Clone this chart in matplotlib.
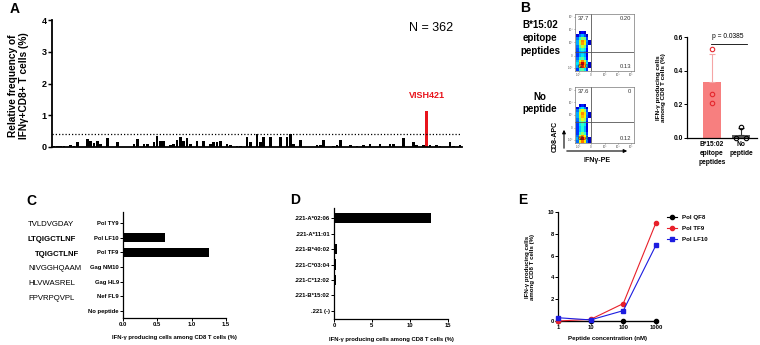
import matplotlib
matplotlib.use("Agg")
import matplotlib.pyplot as plt
import numpy as np
from matplotlib.patches import FancyArrowPatch

plt.rcParams['font.family'] = ['Liberation Sans', 'DejaVu Sans']

# ---------------- data ----------------
# A: screen of peptides, relative frequency of IFNg+CD8+ T cells (%)
freq = [0.03, 0.03, 0.02, 0.02, 0.00, 0.05, 0.02, 0.15, 0.00, 0.00,
        0.25, 0.20, 0.12, 0.20, 0.10, 0.00, 0.27, 0.00, 0.00, 0.15,
        0.00, 0.00, 0.00, 0.00, 0.10, 0.25, 0.00, 0.08, 0.10, 0.00,
        0.15, 0.35, 0.20, 0.20, 0.00, 0.05, 0.10, 0.22, 0.30, 0.20,
        0.28, 0.10, 0.00, 0.18, 0.00, 0.18, 0.00, 0.08, 0.15, 0.15,
        0.20, 0.00, 0.08, 0.05, 0.00, 0.02, 0.03, 0.00, 0.30, 0.15,
        0.00, 0.40, 0.15, 0.30, 0.00, 0.30, 0.00, 0.00, 0.32, 0.00,
        0.30, 0.42, 0.08, 0.00, 0.22, 0.00, 0.00, 0.00, 0.00, 0.05,
        0.05, 0.22, 0.00, 0.00, 0.03, 0.05, 0.22, 0.00, 0.00, 0.05,
        0.00, 0.03, 0.00, 0.05, 0.00, 0.08, 0.00, 0.00, 0.08, 0.00,
        0.00, 0.08, 0.08, 0.00, 0.00, 0.28, 0.00, 0.00, 0.15, 0.05,
        0.00, 0.05, 1.12, 0.05, 0.00, 0.05, 0.03, 0.00, 0.00, 0.17,
        0.03, 0.00, 0.05]
threshold = 0.4
n_label = "N = 362"
hit_label = "VISH421"

# B: flow plots (density, rows bottom -> top)
dens_epitope = [
    [0.20, 0.40, 0.45, 0.35, 0.20, 0.00],
    [0.30, 0.65, 0.80, 0.65, 0.30, 0.10],
    [0.35, 0.70, 0.85, 0.70, 0.35, 0.10],
    [0.30, 0.60, 0.70, 0.55, 0.30, 0.00],
    [0.25, 0.40, 0.45, 0.35, 0.15, 0.00],
    [0.20, 0.30, 0.35, 0.30, 0.12, 0.00],
    [0.20, 0.30, 0.32, 0.28, 0.12, 0.00],
    [0.22, 0.35, 0.40, 0.35, 0.15, 0.00],
    [0.25, 0.45, 0.55, 0.45, 0.20, 0.00],
    [0.30, 0.55, 0.68, 0.60, 0.25, 0.10],
    [0.30, 0.55, 0.70, 0.62, 0.28, 0.10],
    [0.25, 0.40, 0.50, 0.45, 0.20, 0.00],
    [0.12, 0.25, 0.30, 0.22, 0.10, 0.00],
    [0.00, 0.10, 0.15, 0.10, 0.00, 0.00]]
dens_nopep = [
    [0.25, 0.60, 0.72, 0.60, 0.25, 0.10],
    [0.30, 0.70, 0.85, 0.70, 0.30, 0.10],
    [0.25, 0.60, 0.70, 0.60, 0.25, 0.00],
    [0.20, 0.40, 0.50, 0.40, 0.20, 0.00],
    [0.20, 0.32, 0.38, 0.30, 0.12, 0.00],
    [0.20, 0.32, 0.38, 0.30, 0.12, 0.00],
    [0.20, 0.35, 0.40, 0.35, 0.12, 0.00],
    [0.22, 0.40, 0.48, 0.40, 0.15, 0.00],
    [0.25, 0.48, 0.58, 0.50, 0.20, 0.00],
    [0.30, 0.55, 0.66, 0.60, 0.25, 0.10],
    [0.30, 0.60, 0.70, 0.62, 0.28, 0.10],
    [0.25, 0.50, 0.60, 0.50, 0.22, 0.00],
    [0.12, 0.30, 0.35, 0.25, 0.10, 0.00],
    [0.00, 0.12, 0.18, 0.10, 0.00, 0.00]]
quad_epitope = ["37.7", "0.20", "62.0", "0.13"]
quad_nopep = ["37.6", "0", "62.4", "0.12"]

# B: bar summary
b_groups = ["B*15:02\nepitope\npeptides", "No\npeptide"]
b_means = [0.33, 0.02]
b_sd = [0.17, 0.04]
b_pts_epitope = [0.53, 0.26, 0.21]
b_pts_nopep = [0.065, 0.0, 0.0]
b_pval = "p = 0.0385"

# C: peptides
c_labels = ["Pol TY9", "Pol LF10", "Pol TF9", "Gag NM10", "Gag HL9", "Nef FL9", "No peptide"]
c_values = [0.0, 0.61, 1.25, 0.0, 0.0, 0.0, 0.0]
c_seqs = ["TVLDVGDAY", "LTQIGCTLNF", "TQIGCTLNF", "NIVGGHQAAM", "HLVWASREL", "FPVRPQVPL"]
c_seq_bold = [False, True, True, False, False, False]

# D: HLA alleles
d_labels = [".221-A*02:06", ".221-A*11:01", ".221-B*40:02", ".221-C*03:04",
            ".221-C*12:02", ".221-B*15:02", ".221 (-)"]
d_values = [12.7, 0.05, 0.35, 0.25, 0.2, 0.1, 0.15]

# E: titration
e_conc = [1, 10, 100, 1000]
e_qf8 = [0.0, 0.0, 0.0, 0.0]
e_tf9 = [0.0, 0.15, 1.6, 9.0]
e_lf10 = [0.3, 0.1, 0.95, 6.95]

xlab = "IFN-\u03b3 producing cells among CD8 T cells (%)"
ylab2 = "IFN-\u03b3 producing cells\namong CD8 T cells (%)"

# ---------------- layout helpers ----------------
W, H = 760, 345
fig = plt.figure(figsize=(W / 100, H / 100), dpi=100)


def box(x0, y0, x1, y1):
    return [x0 / W, 1 - y1 / H, (x1 - x0) / W, (y1 - y0) / H]


def ftext(x, y, s, **kw):
    fig.text(x / W, 1 - y / H, s, **kw)


def prism(ax, lw=0.9, fs=4.2):
    for s in ['top', 'right']:
        ax.spines[s].set_visible(False)
    for s in ['left', 'bottom']:
        ax.spines[s].set_linewidth(lw)
    ax.tick_params(width=lw * 0.8, length=2, labelsize=fs, pad=1)
    for t in ax.get_xticklabels() + ax.get_yticklabels():
        t.set_fontweight('bold')


# ---------------- A ----------------
axA = fig.add_axes(box(52, 20, 462, 147))
idx = np.arange(len(freq))
hi = int(np.argmax(freq))
axA.bar(idx, freq, width=0.8, color=['#e8141c' if i == hi else 'black' for i in idx])
axA.set_xlim(-0.6, len(freq) - 0.4)
axA.set_ylim(0, 4)
axA.set_yticks([0, 1, 2, 3, 4])
axA.set_xticks([])
axA.axhline(threshold, color='black', lw=0.9, ls=(0, (1, 1.6)))
prism(axA, lw=1.3, fs=6.5)
axA.tick_params(axis='y', length=3)
axA.text(hi, freq[hi] + 0.5, hit_label, color='#e8141c', fontsize=6.5,
         fontweight='bold', ha='center', va='center')
axA.set_ylabel("Relative frequency of\nIFN\u03b3+CD8+ T cells (%)", fontsize=7.3,
               fontweight='bold', linespacing=1.05)
axA.yaxis.set_label_coords(-0.057, 0.48)
ftext(431, 28, n_label, fontsize=9, ha='center', va='center')
ftext(10, 9, "A", fontsize=10, fontweight='bold', va='center', ha='left')

# ---------------- B: flow plots ----------------
cmap = plt.get_cmap('jet')


def flow(ax, dens, gate_y, q):
    d = np.ma.masked_less(np.array(dens), 0.09)
    xe = np.linspace(2, 27, d.shape[1] + 1)
    ye = np.linspace(0, 70, d.shape[0] + 1)
    ax.pcolormesh(xe, ye, d, cmap=cmap, vmin=0.05, vmax=0.9, shading='flat')
    ax.set_xlim(0, 100)
    ax.set_ylim(0, 100)
    ax.axvline(27, color='#555555', lw=0.6)
    ax.axhline(gate_y, color='#555555', lw=0.6)
    for s in ax.spines.values():
        s.set_linewidth(0.5)
        s.set_color('#777777')
    ax.set_xticks([6, 27, 50, 73, 95])
    ax.set_xticklabels(["-10\u00b3", "0", "10\u00b3", "10\u2074", "10\u2075"])
    ax.set_yticks([6, 27, 50, 73, 95])
    ax.set_yticklabels(["-10\u00b3", "0", "10\u00b3", "10\u2074", "10\u2075"])
    ax.tick_params(length=1, width=0.4, labelsize=2.2, pad=0.5, colors='#555555')
    kw = dict(fontsize=4.2, color='#333333', va='center')
    ax.text(5, 92, q[0], ha='left', **kw)
    ax.text(95, 92, q[1], ha='right', **kw)
    ax.text(5, 8, q[2], ha='left', **kw)
    ax.text(95, 8, q[3], ha='right', **kw)


flow(fig.add_axes(box(575, 14, 634, 71)), dens_epitope, 33, quad_epitope)
flow(fig.add_axes(box(575, 87, 634, 143)), dens_nopep, 37.5, quad_nopep)
fig.add_artist(FancyArrowPatch((564 / W, 1 - 151 / H), (564 / W, 1 - 127 / H),
                               arrowstyle='-|>', mutation_scale=5, lw=0.8,
                               color='black', transform=fig.transFigure))
fig.add_artist(FancyArrowPatch((564 / W, 1 - 151 / H), (630 / W, 1 - 151 / H),
                               arrowstyle='-|>', mutation_scale=5, lw=0.8,
                               color='black', transform=fig.transFigure))
ftext(555, 136, "CD8-APC", rotation=90, fontsize=5, fontweight='bold', ha='center', va='center')
ftext(597, 160, "IFN\u03b3-PE", fontsize=5, fontweight='bold', ha='center', va='center')
ftext(540, 38, "B*15:02\nepitope\npeptides", fontsize=7, fontweight='bold',
      ha='center', va='center', linespacing=1.35)
ftext(540, 103, "No\npeptide", fontsize=7, fontweight='bold',
      ha='center', va='center', linespacing=1.35)
ftext(520, 8, "B", fontsize=10, fontweight='bold', va='center', ha='left')

# ---------------- B: bar summary ----------------
axB = fig.add_axes(box(687, 37, 757, 138))
xb = np.arange(len(b_groups))
axB.bar(xb, b_means, width=0.62, color=['#f77f7f', '#5a5a5a'], zorder=1)
axB.errorbar(xb[0], b_means[0], yerr=[[0], [b_sd[0]]], color='#f5a5a5', lw=0.8,
             capsize=2.5, capthick=0.8, zorder=2)
axB.errorbar(xb[1], b_means[1], yerr=[[0], [b_sd[1]]], color='#333333', lw=0.8,
             capsize=2.5, capthick=0.8, zorder=2)
axB.plot([xb[0]] * len(b_pts_epitope), b_pts_epitope, 'o', mfc='none', mec='#e4262d',
         ms=3.2, mew=0.8, zorder=3, clip_on=False)
axB.plot(xb[1] + np.array([0.0, -0.16, 0.16]), b_pts_nopep, 'o', mfc='none', mec='black',
         ms=3.2, mew=0.8, zorder=3, clip_on=False)
axB.set_xlim(-0.86, 1.55)
axB.set_ylim(0, 0.6)
axB.set_yticks([0, 0.2, 0.4, 0.6])
axB.set_yticklabels(["0.0", "0.2", "0.4", "0.6"])
axB.set_xticks(xb)
axB.set_xticklabels(b_groups, linespacing=1.4)
prism(axB, lw=0.9, fs=4.8)
axB.tick_params(axis='x', length=0, pad=2.5)
axB.plot([xb[0] - 0.05, xb[1] + 0.2], [0.56, 0.56], color='black', lw=0.6, clip_on=False)
axB.text(0.55, 0.605, b_pval, fontsize=4.8, ha='center', va='center')
axB.set_ylabel(ylab2, fontsize=4.6, fontweight='bold', linespacing=1.1)
axB.yaxis.set_label_coords(-0.3, 0.5)

# ---------------- C ----------------
axC = fig.add_axes(box(123, 212, 226, 318))
yc = np.arange(len(c_labels))
axC.barh(yc, c_values, height=0.6, color='black')
axC.set_ylim(len(c_labels) - 0.52, -0.75)
axC.set_xlim(0, 1.5)
axC.set_yticks(yc)
axC.set_yticklabels(c_labels)
axC.set_xticks([0, 0.5, 1.0, 1.5])
axC.set_xticklabels(["0.0", "0.5", "1.0", "1.5"])
prism(axC, lw=0.9, fs=4.2)
axC.set_xlabel(xlab, fontsize=4.2, fontweight='bold', labelpad=6)
seq_tr = matplotlib.transforms.blended_transform_factory(fig.transFigure, axC.transData)
for i, (s, b) in enumerate(zip(c_seqs, c_seq_bold)):
    x0 = 35 if s.startswith("TQ") else 28
    axC.text(x0 / W, yc[i] + 0.12, s, transform=seq_tr, fontsize=5.6,
             fontweight='bold' if b else 'normal', ha='left', va='center')
ftext(26, 201, "C", fontsize=10, fontweight='bold', va='center', ha='left')

# ---------------- D ----------------
axD = fig.add_axes(box(334, 208, 448, 319))
yd = np.arange(len(d_labels))
axD.barh(yd, d_values, height=0.65, color='black')
axD.set_ylim(len(d_labels) - 0.48, -0.65)
axD.set_xlim(0, 15)
axD.set_yticks(yd)
axD.set_yticklabels(d_labels)
axD.set_xticks([0, 5, 10, 15])
prism(axD, lw=0.9, fs=4.2)
axD.set_xlabel(xlab, fontsize=4.2, fontweight='bold', labelpad=6)
ftext(290, 200, "D", fontsize=10, fontweight='bold', va='center', ha='left')

# ---------------- E ----------------
axE = fig.add_axes(box(558, 212, 657, 321))
axE.plot(e_conc, e_qf8, '-o', color='black', lw=0.8, ms=3, clip_on=False, label="Pol QF8", zorder=2)
axE.plot(e_conc, e_tf9, '-o', color='#e8202a', lw=0.8, ms=3, clip_on=False, label="Pol TF9", zorder=3)
axE.plot(e_conc, e_lf10, '-s', color='#1c1ce0', lw=0.8, ms=3, clip_on=False, label="Pol LF10", zorder=4)
axE.set_xscale('log')
axE.set_xlim(1, 1080)
axE.set_ylim(0, 10)
axE.set_xticks(e_conc)
axE.set_xticklabels([str(c) for c in e_conc])
axE.minorticks_off()
axE.set_yticks([0, 2, 4, 6, 8, 10])
prism(axE, lw=0.9, fs=4.2)
axE.set_xlabel("Peptide concentration (nM)", fontsize=4.4, fontweight='bold', labelpad=4)
axE.set_ylabel(ylab2, fontsize=4.4, fontweight='bold', linespacing=1.1)
axE.yaxis.set_label_coords(-0.23, 0.5)
leg = axE.legend(loc='upper left', bbox_to_anchor=(664 / W, 1 - 212 / H),
                 bbox_transform=fig.transFigure, frameon=False, fontsize=4.4,
                 handlelength=1.6, handletextpad=0.8, labelspacing=0.9, borderpad=0)
for t in leg.get_texts():
    t.set_fontweight('bold')
ftext(518, 200, "E", fontsize=10, fontweight='bold', va='center', ha='left')

fig.savefig("out.png", dpi=100, facecolor='white')
